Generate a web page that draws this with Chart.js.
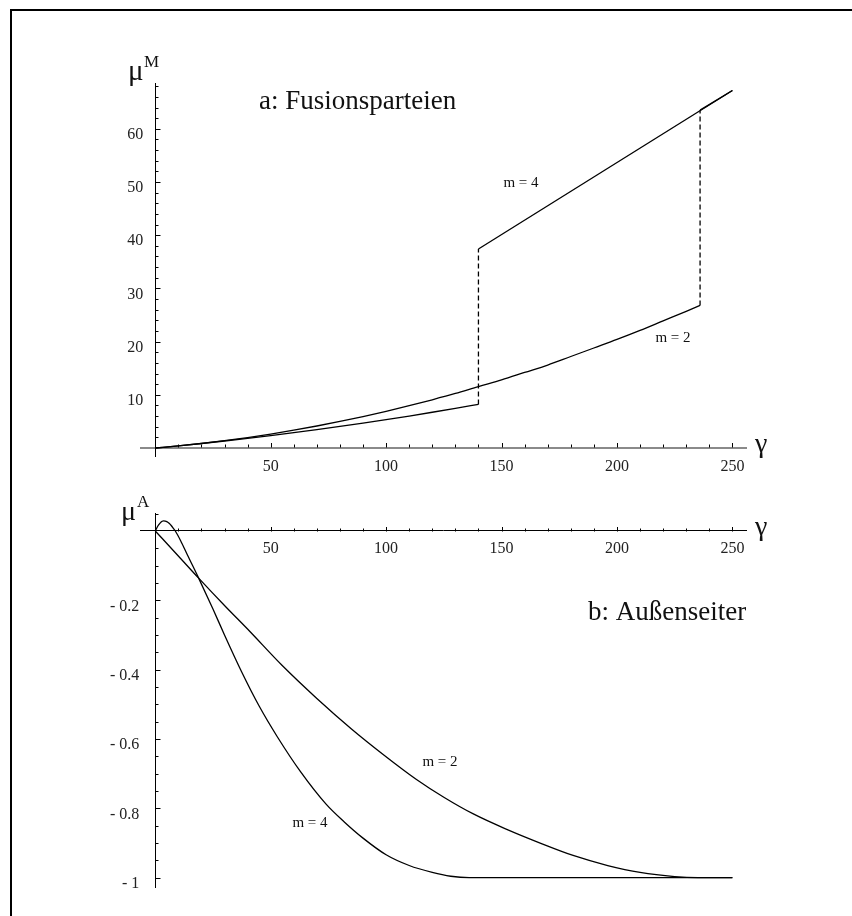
<!DOCTYPE html>
<html><head><meta charset="utf-8">
<script src="https://cdn.jsdelivr.net/npm/chart.js@4.4.1/dist/chart.umd.min.js"></script>
<style>
html,body{margin:0;padding:0;background:#fff;}
#wrap{position:relative;width:852px;height:916px;overflow:hidden;background:#fff;}
#frame{position:absolute;left:10px;top:9px;width:900px;height:950px;border-left:2px solid #000;border-top:2px solid #000;}
canvas{position:absolute;left:0;top:0;}
</style></head><body>
<div id="wrap"><div id="frame"></div>
<canvas id="cA" width="852" height="916"></canvas>
<canvas id="cB" width="852" height="916"></canvas>
</div>
<script>
// ---------- Panel a: Fusionsparteien (mu^M) ----------
const gammaM2Curve = [0,10,20,30,40,50,60,70,80,90,100,110,120,130,140,150,160,170,180,190,200,210,220,230,236];
const muM2Curve    = [0,0.39,0.85,1.38,1.97,2.63,3.35,4.14,5.0,5.92,6.9,7.95,9.07,10.25,11.55,12.8,14.2,15.6,17.2,18.8,20.4,22.1,23.9,25.7,26.8];
const gammaM2Jump  = [236,236];
const muM2Jump     = [26.8,63.5];
const gammaM2Line  = [236,250];
const muM2Line     = [63.5,67.2];
const gammaM4Curve = [0,10,20,30,40,50,60,70,80,90,100,110,120,130,140];
const muM4Curve    = [0,0.41,0.85,1.32,1.81,2.33,2.88,3.45,4.05,4.68,5.33,6.01,6.72,7.45,8.2];
const gammaM4Jump  = [140,140];
const muM4Jump     = [8.2,37.4];
const gammaM4Line  = [140,250];
const muM4Line     = [37.4,67.2];

// ---------- Panel b: Aussenseiter (mu^A) ----------
const gammaA4 = [0,1,2,3,3.6,5,6,7,8,8.7,11,14,18.8,25,30,37.4,45,53,63,74,82,90,100,110,120,128,136,150,200,250];
const muA4    = [0,0.013,0.022,0.028,0.029,0.027,0.022,0.015,0.006,0,-0.028,-0.07,-0.136,-0.225,-0.30,-0.406,-0.505,-0.595,-0.695,-0.788,-0.84,-0.886,-0.934,-0.965,-0.985,-0.996,-1,-1,-1,-1];
const gammaA2 = [0,10,18.8,30,41,55,70,85,99,113,125,138,152,167,181,196,210,225,235,250];
const muA2    = [0,-0.072,-0.136,-0.215,-0.29,-0.388,-0.483,-0.571,-0.646,-0.716,-0.768,-0.817,-0.86,-0.901,-0.936,-0.965,-0.985,-0.997,-1,-1];

// ---------- Ticks ----------
const xMajorTicks = [50,100,150,200,250];
const xMinorTicks = [10,20,30,40,60,70,80,90,110,120,130,140,160,170,180,190,210,220,230,240];
const yMajorTicksA = [10,20,30,40,50,60];
const yMinorTicksA = [2,4,6,8,12,14,16,18,22,24,26,28,32,34,36,38,42,44,46,48,52,54,56,58,62,64,66,68];
const yMajorTicksB = [-0.2,-0.4,-0.6,-0.8,-1];
const yMinorTicksB = [0.05,-0.05,-0.1,-0.15,-0.25,-0.3,-0.35,-0.45,-0.5,-0.55,-0.65,-0.7,-0.75,-0.85,-0.9,-0.95];

const serif = '"Liberation Serif","Times New Roman",serif';
function pts(xs, ys){ return xs.map((x,i)=>({x:x, y:ys[i]})); }
function line(xs, ys, dashed, smooth){
  return {data: pts(xs, ys), borderColor:'#000', borderWidth:1.3, pointRadius:0,
          borderDash: dashed ? [5,3] : [], fill:false,
          cubicInterpolationMode: smooth ? 'monotone' : 'default', tension:0};
}

function tickMarks(cfg){
  return {id:'tickMarks', afterDraw(chart){
    const c = chart.ctx, xs = chart.scales.x, ys = chart.scales.y;
    const x0 = Math.round(xs.getPixelForValue(0)) + 0.5;
    const y0 = Math.round(ys.getPixelForValue(0)) + 0.5;
    c.save(); c.strokeStyle = '#000'; c.lineWidth = 1; c.beginPath();
    const xt = (v, len) => { const p = Math.round(xs.getPixelForValue(v)) + 0.5; c.moveTo(p, y0 - cfg.xOff); c.lineTo(p, y0 - cfg.xOff - len); };
    const yt = (v, len) => { const p = Math.round(ys.getPixelForValue(v)) + 0.5; c.moveTo(x0, p); c.lineTo(x0 + len, p); };
    xMajorTicks.forEach(v => xt(v, 4.5)); xMinorTicks.forEach(v => xt(v, 3));
    cfg.yMajor.forEach(v => yt(v, 5)); cfg.yMinor.forEach(v => yt(v, 3));
    c.stroke(); c.restore();
  }};
}
function texts(items){
  return {id:'texts', afterDraw(chart){
    const c = chart.ctx; c.save(); c.fillStyle = '#111';
    items.forEach(t => { c.font = t.size + 'px ' + serif; c.textAlign = t.align || 'left'; c.textBaseline = t.base || 'alphabetic'; c.fillText(t.s, t.x, t.y); });
    c.restore();
  }};
}
function baseOptions(pad, yMin, yMax, xBorderColor, xBorderWidth, yTicks, yFmt, xPad){
  return {
    responsive:false, animation:false, devicePixelRatio:1,
    layout:{padding:pad},
    plugins:{legend:{display:false}, tooltip:{enabled:false}},
    scales:{
      x:{type:'linear', min:-6.3, max:256.2, position:{y:0},
         grid:{display:false, drawTicks:false},
         border:{display:true, color:xBorderColor, width:xBorderWidth},
         afterBuildTicks: s => { s.ticks = xMajorTicks.map(v => ({value:v})); },
         ticks:{font:{family:serif, size:16}, color:'#222', padding:xPad, maxRotation:0, autoSkip:false,
                callback: v => String(v)}},
      y:{type:'linear', min:yMin, max:yMax, position:{x:0},
         grid:{display:false, drawTicks:false},
         border:{display:true, color:'#000', width:1},
         afterBuildTicks: s => { s.ticks = yTicks.map(v => ({value:v})); },
         ticks:{font:{family:serif, size:16}, color:'#222', autoSkip:false, labelOffset:6,
                callback: yFmt}}
    }
  };
}

// Panel a
new Chart(document.getElementById('cA'), {
  type:'line',
  data:{datasets:[
    line(gammaM2Curve, muM2Curve, false, true),
    line(gammaM2Jump, muM2Jump, true, false),
    line(gammaM2Line, muM2Line, false, false),
    line(gammaM4Curve, muM4Curve, false, true),
    line(gammaM4Jump, muM4Jump, true, false),
    line(gammaM4Line, muM4Line, false, false)
  ]},
  options: baseOptions({left:140.7, right:105.3, top:83.3, bottom:460}, -1.5, 68.55, '#8a8a8a', 2,
                       yMajorTicksA, v => String(v) + '   ', 9.4),
  plugins:[tickMarks({yMajor:yMajorTicksA, yMinor:yMinorTicksA, xOff:1}), texts([
    {s:'a: Fusionsparteien', x:259, y:109, size:27},
    {s:'\u03BC', x:128, y:80, size:29},
    {s:'M', x:144, y:67, size:17},
    {s:'\u03B3', x:755, y:452, size:28},
    {s:'m = 4', x:521, y:183, size:15, align:'center', base:'middle'},
    {s:'m = 2', x:673, y:338, size:15, align:'center', base:'middle'}
  ])]
});

// Panel b
new Chart(document.getElementById('cB'), {
  type:'line',
  data:{datasets:[
    line(gammaA2, muA2, false, true),
    line(gammaA4, muA4, false, true)
  ]},
  options: baseOptions({left:140.7, right:105.3, top:513.3, bottom:29}, -1.027, 0.051, '#000', 1,
                       yMajorTicksB, v => '- ' + String(Math.abs(Math.round(v*10)/10)) + '    ', 8.7),
  plugins:[tickMarks({yMajor:yMajorTicksB, yMinor:yMinorTicksB, xOff:0}), texts([
    {s:'b: Au\u00DFenseiter', x:588, y:620, size:27},
    {s:'\u03BC', x:121, y:520, size:28},
    {s:'A', x:137, y:507, size:17},
    {s:'\u03B3', x:755, y:535, size:28},
    {s:'m = 2', x:440, y:762, size:15, align:'center', base:'middle'},
    {s:'m = 4', x:310, y:823, size:15, align:'center', base:'middle'}
  ])]
});
</script>
</body></html>
